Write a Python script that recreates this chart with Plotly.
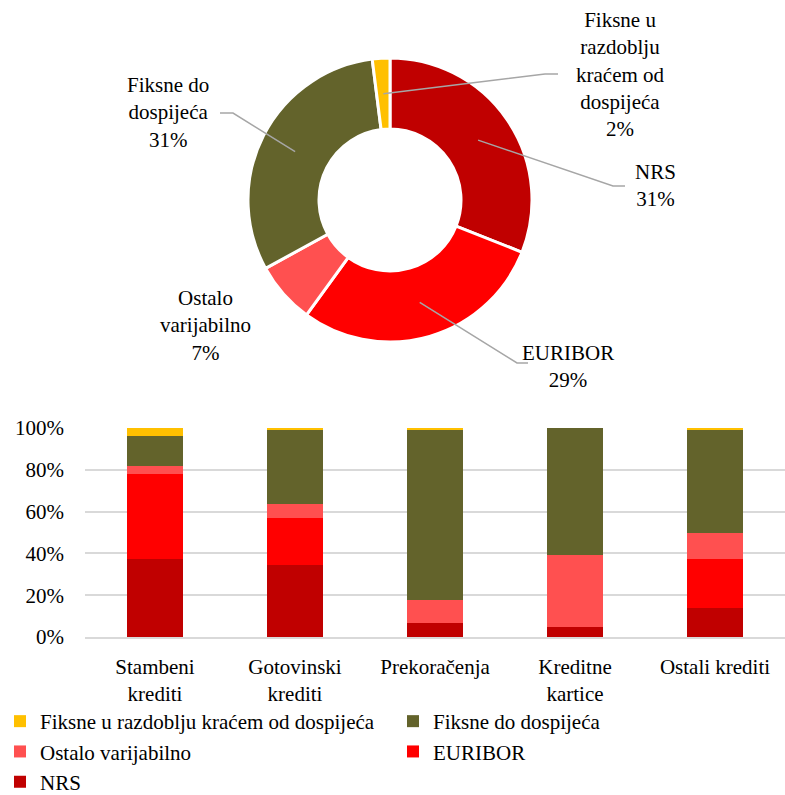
import math
import plotly.graph_objects as go

# ---- data -------------------------------------------------------------
series = [
    "NRS",
    "EURIBOR",
    "Ostalo varijabilno",
    "Fiksne do dospijeća",
    "Fiksne u razdoblju kraćem od dospijeća",
]
# donut shares (%), same order as series
donut_values = [31, 29, 7, 31, 2]

categories = [
    "Stambeni<br>krediti",
    "Gotovinski<br>krediti",
    "Prekoračenja",
    "Kreditne<br>kartice",
    "Ostali krediti",
]
# stacked shares (%) per category, one list per series
nrs = [37.5, 34.6, 6.7, 4.9, 14.0]
euribor = [40.4, 22.3, 0.0, 0.0, 23.3]
ostalo_var = [3.7, 6.5, 11.1, 34.3, 12.7]
fiksne_do = [14.5, 36.0, 81.6, 60.8, 49.4]
fiksne_krace = [3.9, 0.6, 0.6, 0.0, 0.6]
bar_values = [nrs, euribor, ostalo_var, fiksne_do, fiksne_krace]

y_ticks = [0, 20, 40, 60, 80, 100]
y_tick_labels = [f"{t}%" for t in y_ticks]

# ---- styling ----------------------------------------------------------
colors = ["#C00000", "#FF0000", "#FF5050", "#63632B", "#FFC000"]
FONT = "Liberation Serif, Times New Roman, DejaVu Serif, serif"
FS = 21
W, H = 785, 795


def px(x):
    return x / W


def py(y):
    return 1 - y / H


# donut geometry (pixels)
CX, CY, R_OUT = 390, 200, 142
HOLE = 0.5
R_MID = R_OUT * (1 + HOLE) / 2

fig = go.Figure()

fig.add_trace(go.Pie(
    labels=series,
    values=donut_values,
    sort=False,
    direction="clockwise",
    rotation=0,
    hole=HOLE,
    textinfo="none",
    marker=dict(colors=colors, line=dict(color="white", width=3)),
    domain=dict(x=[px(CX - R_OUT), px(CX + R_OUT)],
                y=[py(CY + R_OUT), py(CY - R_OUT)]),
    showlegend=False,
))

for name, vals, col in zip(series, bar_values, colors):
    fig.add_trace(go.Bar(
        name=name,
        x=categories,
        y=vals,
        marker=dict(color=col, line=dict(width=0)),
        width=0.4,
        xaxis="x",
        yaxis="y",
    ))

# donut labels: text block centre and leader-line elbow / end (pixels)
label_layout = {
    "NRS": dict(pos=(655, 186), elbow=(613, 186), end=(625, 186)),
    "EURIBOR": dict(pos=(568, 366), elbow=(517, 363), end=(528, 363)),
    "Ostalo varijabilno": dict(pos=(205, 325), elbow=None, end=None),
    "Fiksne do dospijeća": dict(pos=(168, 113), elbow=(233, 113), end=(220, 113)),
    "Fiksne u razdoblju kraćem od dospijeća": dict(pos=(620, 75), elbow=(545, 74), end=(558, 74)),
}
label_text = {
    "NRS": "NRS",
    "EURIBOR": "EURIBOR",
    "Ostalo varijabilno": "Ostalo<br>varijabilno",
    "Fiksne do dospijeća": "Fiksne do<br>dospijeća",
    "Fiksne u razdoblju kraćem od dospijeća": "Fiksne u<br>razdoblju<br>kraćem od<br>dospijeća",
}

annotations = []
shapes = []
total = sum(donut_values)
cum = 0
for name, v in zip(series, donut_values):
    mid = (cum + v / 2) / total * 2 * math.pi
    cum += v
    lay = label_layout[name]
    annotations.append(dict(
        x=px(lay["pos"][0]), y=py(lay["pos"][1]), xref="paper", yref="paper",
        text=f"{label_text[name]}<br>{v}%", showarrow=False,
        xanchor="center", yanchor="middle", align="center",
        font=dict(family=FONT, size=FS, color="#000000"),
    ))
    if lay["elbow"] is not None:
        sx = CX + R_MID * math.sin(mid)
        sy = CY - R_MID * math.cos(mid)
        ex, ey = lay["elbow"]
        tx, ty = lay["end"]
        shapes.append(dict(
            type="path", xref="paper", yref="paper",
            path=f"M {px(sx)} {py(sy)} L {px(ex)} {py(ey)} L {px(tx)} {py(ty)}",
            line=dict(color="#A6A6A6", width=1.5),
        ))

fig.update_layout(
    width=W, height=H,
    margin=dict(l=0, r=0, t=0, b=0, autoexpand=False),
    paper_bgcolor="white",
    plot_bgcolor="white",
    barmode="stack",
    font=dict(family=FONT, size=FS, color="#000000"),
    xaxis=dict(
        domain=[px(85), px(785)],
        anchor="y",
        showgrid=False,
        showline=True, linecolor="#D9D9D9", linewidth=1.5,
        ticks="", ticklabelstandoff=10,
        tickfont=dict(family=FONT, size=FS, color="#000000"),
        automargin=False,
    ),
    yaxis=dict(
        domain=[py(637), py(428)],
        anchor="x",
        range=[0, 100],
        tickmode="array",
        tickvals=y_ticks,
        ticktext=y_tick_labels,
        showgrid=True, gridcolor="#D9D9D9", gridwidth=1.5,
        zeroline=False,
        ticks="", ticklabelstandoff=20,
        tickfont=dict(family=FONT, size=FS, color="#000000"),
        automargin=False,
    ),
    legend=dict(
        orientation="h",
        traceorder="reversed",
        x=0, y=-7 / H, xanchor="left", yanchor="bottom",
        bgcolor="rgba(0,0,0,0)",
        entrywidth=348, entrywidthmode="pixels",
        font=dict(family=FONT, size=FS, color="#000000"),
        itemclick=False,
    ),
    annotations=annotations,
    shapes=shapes,
)

fig.write_html("out.html")
